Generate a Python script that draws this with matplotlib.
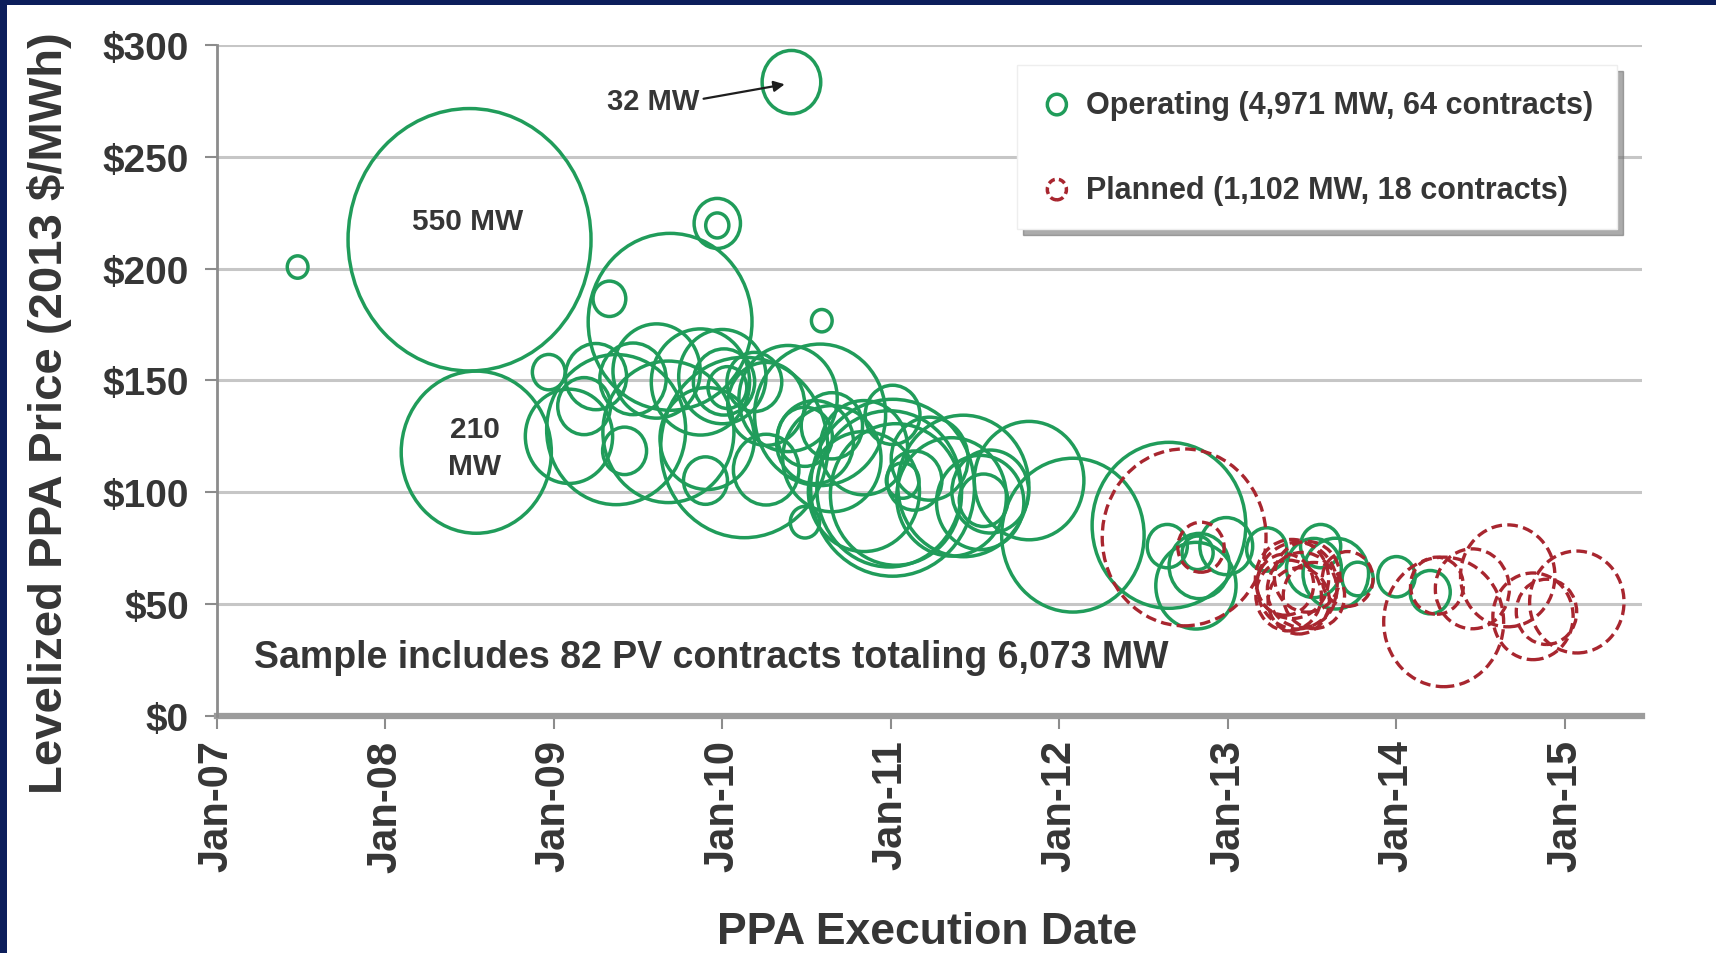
import matplotlib
matplotlib.use('Agg')
import matplotlib.pyplot as plt
from matplotlib.path import Path
from matplotlib.transforms import Affine2D
from matplotlib.patches import Rectangle

plt.rcParams['font.family'] = ['Liberation Sans', 'DejaVu Sans']
plt.rcParams['font.weight'] = 'bold'

# operating PV contracts: execution date (decimal year), price ($/MWh), size (MW)
op_date = [2007.48, 2008.50, 2008.54, 2010.41, 2009.97, 2009.97, 2009.69, 2009.33,
           2010.59, 2008.97, 2009.47, 2009.18, 2009.42, 2009.37, 2009.91, 2009.68,
           2010.00, 2010.01, 2010.03, 2010.13, 2010.39, 2010.49, 2010.55, 2010.58,
           2010.49, 2009.90, 2010.26, 2010.19, 2011.01, 2010.99, 2011.03, 2011.01,
           2011.07, 2011.14, 2011.43, 2011.53, 2011.55, 2011.36, 2010.84, 2012.08,
           2011.82, 2012.65, 2012.64, 2012.82, 2012.83, 2012.81, 2012.99, 2013.23,
           2013.55, 2013.64, 2013.77, 2013.51, 2014.00, 2014.20, 2009.09, 2009.25,
           2009.61, 2009.87, 2010.26, 2010.65, 2010.84, 2011.23, 2011.59, 2010.65]
op_price = [200.7, 212.9, 117.9, 283.4, 220.2, 219.3, 176.2, 186.5,
            176.7, 153.7, 150.7, 138.5, 118.5, 128.0, 124.0, 127.0,
            151.7, 149.3, 146.8, 120.0, 141.9, 124.8, 122.4, 134.6,
            86.6, 105.2, 110.1, 149.3, 102.0, 101.5, 99.0, 134.6,
            105.2, 105.2, 102.8, 95.4, 96.4, 97.9, 119.9, 80.8,
            105.2, 85.2, 75.9, 72.9, 67.0, 58.2, 75.9, 74.4,
            75.9, 63.6, 61.2, 66.1, 62.2, 55.3, 125.0, 151.7,
            154.2, 149.3, 139.5, 115.0, 100.3, 115.0, 100.3, 129.7]
op_mw = [4, 550, 210, 32, 20, 5, 250, 10,
         4, 10, 41, 26, 18, 180, 83, 160,
         71, 35, 14, 260, 90, 28, 55, 160,
         8, 18, 40, 28, 250, 195, 160, 28,
         10, 28, 160, 71, 22, 112, 71, 189,
         112, 220, 15, 9, 34, 60, 26, 15,
         15, 40, 9, 28, 13, 15, 71, 35,
         71, 90, 55, 90, 115, 55, 55, 35]

# planned PV contracts
pl_date = [2012.74, 2012.84, 2013.41, 2013.38, 2013.44, 2013.36, 2013.47, 2013.42, 2013.34,
           2013.51, 2013.71, 2014.28, 2014.24, 2014.45, 2014.66, 2014.89, 2015.07, 2014.81]
pl_price = [79.8, 75.4, 58.2, 61.2, 56.3, 53.8, 62.2, 51.4, 58.7,
            53.8, 61.2, 42.0, 58.2, 56.8, 62.6, 46.5, 50.9, 44.5]
pl_mw = [250, 20, 60, 50, 45, 40, 40, 35, 30,
         35, 24, 134, 26, 51, 83, 34, 83, 60]

year_ticks = [2007, 2008, 2009, 2010, 2011, 2012, 2013, 2014, 2015]
year_labels = ['Jan-07', 'Jan-08', 'Jan-09', 'Jan-10', 'Jan-11', 'Jan-12', 'Jan-13', 'Jan-14', 'Jan-15']
price_ticks = [0, 50, 100, 150, 200, 250, 300]
price_labels = ['$0', '$50', '$100', '$150', '$200', '$250', '$300']

green = '#209c5a'
red = '#a8262f'
txt = '#363636'

# bubbles in the source are slightly taller than wide
ell = Affine2D().scale(1.0, 1.08).transform_path(Path.unit_circle())
mw_to_s = 64.9

fig = plt.figure(figsize=(17.16, 9.54), dpi=100)
fig.patch.set_facecolor('white')
ax = fig.add_axes([0.1263, 0.2486, 0.8304, 0.7032])

ax.set_xlim(2007, 2015.455)
ax.set_ylim(0, 300)

for p in price_ticks[1:]:
    ax.axhline(p, color='#c6c6c6', lw=2.2, zorder=1)
ax.axhline(0, color='#9c9c9c', lw=4.5, zorder=2, clip_on=False)

ax.scatter(op_date, op_price, s=[m * mw_to_s for m in op_mw], marker=ell,
           facecolors='none', edgecolors=green, linewidths=2.5, zorder=3)
ax.scatter(pl_date, pl_price, s=[m * mw_to_s for m in pl_mw], marker=ell,
           facecolors='none', edgecolors=red, linewidths=2.4,
           linestyle=(0, (3.2, 1.6)), zorder=4)

# legend proxies
h_op = ax.scatter([], [], s=220, marker=ell, facecolors='none', edgecolors=green, linewidths=2.5)
h_pl = ax.scatter([], [], s=220, marker=ell, facecolors='none', edgecolors=red, linewidths=2.5,
                  linestyle=(0, (2.0, 1.2)))
leg = ax.legend([h_op, h_pl], ['Operating (4,971 MW, 64 contracts)', 'Planned (1,102 MW, 18 contracts)'],
                loc='upper right', bbox_to_anchor=(0.983, 0.970), borderaxespad=0,
                fontsize=22, frameon=True, fancybox=False, framealpha=1,
                edgecolor='#eeeeee', labelspacing=1.8, borderpad=0.8,
                handlelength=1.0, handletextpad=0.45, labelcolor=txt,
                shadow={'ox': 4, 'oy': -4, 'color': '0.45', 'alpha': 0.6})
leg.set_zorder(10)

ax.set_xticks(year_ticks)
ax.set_xticklabels(year_labels, rotation=90, fontsize=30, color=txt)
ax.set_yticks(price_ticks)
ax.set_yticklabels(price_labels, fontsize=28, color=txt)
ax.tick_params(axis='x', length=9, width=1.5, color='#8c8c8c', pad=8)
ax.tick_params(axis='y', length=9, width=1.5, color='#8c8c8c', pad=11)

for side in ['top', 'right', 'bottom']:
    ax.spines[side].set_visible(False)
ax.spines['left'].set_color('#8c8c8c')
ax.spines['left'].set_linewidth(2)

ax.text(2008.49, 221.2, '550 MW', ha='center', va='center', fontsize=21.5, color=txt, zorder=6)
ax.text(2008.53, 120.0, '210\nMW', ha='center', va='center', fontsize=21.5, color=txt,
        linespacing=1.45, zorder=6)
ax.annotate('32 MW', xy=(2010.37, 282.4), xytext=(2009.59, 275.0), ha='center', va='center',
            fontsize=21, color=txt, zorder=6,
            arrowprops=dict(arrowstyle='-|>', color='#1e1e1e', lw=1.6, mutation_scale=16,
                            relpos=(1.0, 0.55), shrinkA=1, shrinkB=0))
ax.text(2007.22, 26.3, 'Sample includes 82 PV contracts totaling 6,073 MW', ha='left', va='center',
        fontsize=27, color=txt, zorder=6)

fig.text(0.029, 0.168, 'Levelized PPA Price (2013 $/MWh)', rotation=90, ha='center', va='bottom',
         fontsize=34, color=txt)
fig.text(0.540, 0.0225, 'PPA Execution Date', ha='center', va='center', fontsize=32, color=txt)

# dark frame of the source slide
fig.patches.append(Rectangle((0, 0), 7 / 1716, 1, transform=fig.transFigure,
                             facecolor='#0c1e5b', edgecolor='none', zorder=100))
fig.patches.append(Rectangle((0, 1 - 6 / 954), 1, 6 / 954, transform=fig.transFigure,
                             facecolor='#0c1e5b', edgecolor='none', zorder=100))

fig.savefig('out.png', dpi=100, facecolor='white')
